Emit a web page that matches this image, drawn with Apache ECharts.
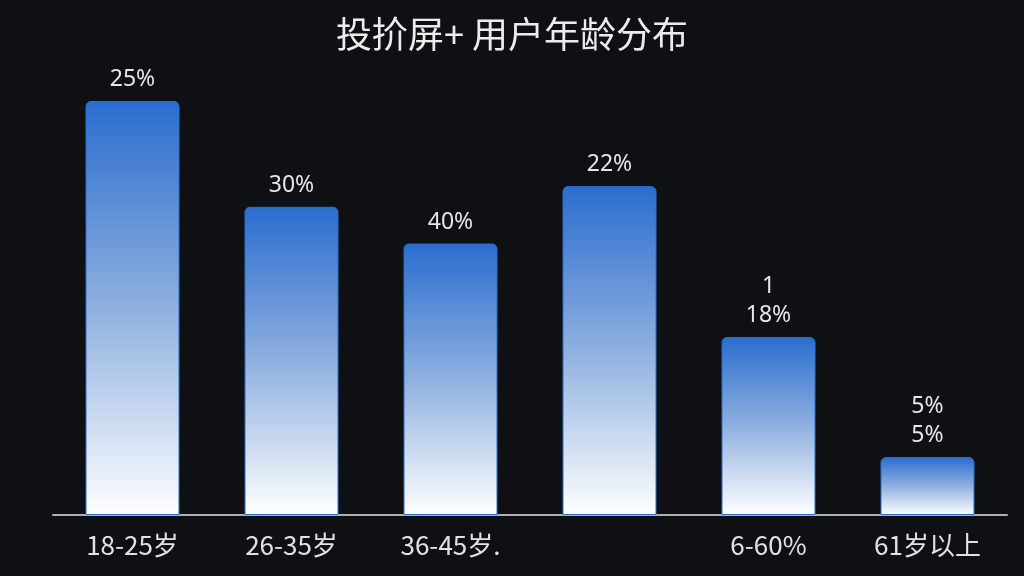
<!DOCTYPE html>
<html>
<head>
<meta charset="utf-8">
<script src="https://cdn.jsdelivr.net/npm/echarts@6/dist/echarts.min.js"></script>
<style>
html,body{margin:0;padding:0;background:#0e1014;}
#c{width:1024px;height:576px;}
</style>
</head>
<body>
<div id="c"></div>
<script>
const categories = ['18-25岁', '26-35岁', '36-45岁.', '', '6-60%', '61岁以上'];
const barValues = [90, 67, 59, 71.5, 38.7, 12.6];
const barLabels = ['25%', '30%', '40%', '22%', '1\n18%', '5%\n5%'];
const titleText = '投扴屏+ 用户年龄分布';

const chart = echarts.init(document.getElementById('c'));
chart.setOption({
  backgroundColor: '#0e1014',
  title: {
    text: titleText,
    left: 'center',
    top: 11,
    textStyle: {
      color: '#ececec',
      fontSize: 36,
      fontWeight: 'normal',
      fontFamily: 'Noto Sans CJK SC'
    }
  },
  grid: { left: 53, right: 17, top: 55, bottom: 61, containLabel: false },
  xAxis: {
    type: 'category',
    data: categories,
    axisLine: { show: true, lineStyle: { color: '#b0b0b0', width: 2 } },
    axisTick: { show: false },
    axisLabel: {
      color: '#e2e2e2',
      fontSize: 26,
      margin: 17,
      fontFamily: 'Noto Sans CJK SC'
    }
  },
  yAxis: {
    type: 'value',
    min: 0,
    max: 100,
    show: false,
    splitLine: { show: false }
  },
  series: [{
    type: 'bar',
    data: barValues,
    barWidth: 94,
    itemStyle: {
      borderRadius: [5, 5, 0, 0],
      borderColor: '#2c6fcd',
      borderWidth: 1,
      color: {
        type: 'linear', x: 0, y: 0, x2: 0, y2: 1,
        colorStops: [
          { offset: 0, color: '#2a6dcf' },
          { offset: 0.5, color: '#8fb0e0' },
          { offset: 1, color: '#ffffff' }
        ]
      }
    },
    label: {
      show: true,
      position: 'top',
      distance: 7,
      color: '#e6e6e6',
      fontSize: 23,
      lineHeight: 29,
      fontFamily: 'Noto Sans',
      formatter: p => barLabels[p.dataIndex]
    }
  }]
});
</script>
</body>
</html>
